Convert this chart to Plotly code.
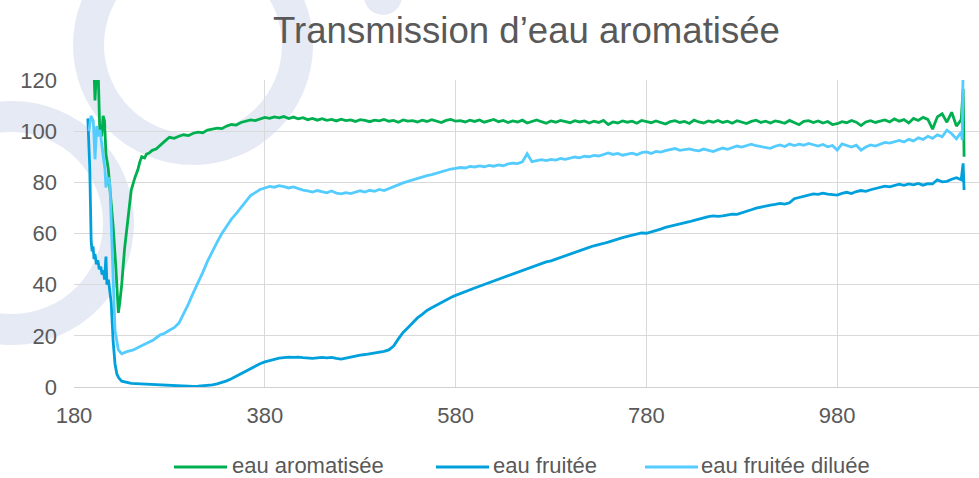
import plotly.graph_objects as go

# ---------------- data ----------------
names = ["eau aromatisée", "eau fruitée", "eau fruitée diluée"]
colors = ["#00B050", "#00A0DC", "#55CCFF"]

x_green_start = [195, 198, 200, 202, 204, 205.5, 207, 209, 210.5, 212, 213.5, 214.5, 216, 218, 221, 224,
                 226.5, 228, 230, 233, 237, 240, 244, 247, 249, 251, 254, 256, 259, 262, 266]
y_green_start = [130, 122, 135, 112, 127, 121, 100, 98, 106, 104, 91, 89, 85, 76, 63, 46,
                 29, 33, 40, 54, 68, 77, 82, 85, 88, 90, 89.5, 91, 91.5, 92.5, 93]

x_blue_start = [194.5, 195.5, 196.5, 198, 199, 200, 201, 202, 203.5, 205, 206.5, 208, 209.5, 211, 212,
                213.5, 214.5, 216, 217.5, 219, 221, 223, 225, 227, 230, 235, 240, 250, 260, 265]
y_blue_start = [105, 97, 86, 57, 53, 55, 50, 52, 48, 49.5, 46, 47, 44, 45.5, 42,
                51, 40, 42, 38, 33, 18, 9, 5, 3.5, 2.3, 1.8, 1.4, 1.2, 1.0, 0.9]

x_light_start = [195.7, 197.8, 200.2, 202, 203.8, 205.2, 207.3, 209, 210.7, 212.5, 213.5, 216, 217.7,
                 219.5, 221.2, 223, 226.5, 230, 235.3, 242.2, 249.2, 256.2, 263.2]
y_light_start = [100, 106, 104, 89, 102, 98, 100.5, 94, 90, 85, 78, 82, 79,
                 59, 39, 22, 14.5, 13, 13.8, 14.5, 15.8, 17, 18.4]

# common wavelength grid 270 ... 1110 (step 5)
x_main = list(range(270, 1111, 5))

y_green_main = [
    94.5, 96.0, 97.6, 97.2, 98.0, 98.6, 98.3, 99.2, 99.6, 99.4, 100.4, 100.8, 101.2, 101.0, 102.0, 102.6,
    102.4, 103.4, 103.8, 104.4, 104.1, 104.9, 105.4, 105.0, 105.6, 105.2, 105.7, 104.9, 105.5, 104.8, 105.3,
    104.5, 105.0, 104.3, 104.9, 104.2, 104.6, 104.0, 104.7, 104.1, 104.4, 103.8, 104.5, 104.2, 103.7, 104.3,
    104.0, 104.6, 103.9, 104.2, 103.5, 104.4, 103.9, 104.1, 103.6, 104.3, 103.8, 104.5, 104.0, 103.4, 104.2,
    104.6, 103.9, 104.1, 103.6, 104.3, 103.8, 104.4, 103.5, 104.0, 104.6, 103.7, 104.2, 103.4, 104.0, 103.6,
    104.3, 103.2, 103.9, 104.4, 103.7, 103.1, 104.0, 103.5, 104.2, 103.8, 103.3, 104.1, 103.6, 104.0, 103.2,
    103.9, 103.4, 104.2, 102.6, 103.6, 103.2, 104.0, 103.5, 103.9, 103.1, 104.2, 103.7, 103.3, 104.0, 103.5,
    102.8, 103.7, 104.1, 103.4, 103.8, 103.0, 104.3, 103.6, 103.2, 104.0, 103.5, 104.2, 103.4, 103.9, 103.1,
    104.1, 103.5, 103.0, 103.8, 104.3, 103.4, 103.9, 103.2, 104.0, 103.6, 103.1, 104.2, 103.5, 102.5, 103.8,
    104.1, 103.4, 104.0, 103.2, 103.8, 102.6, 102.9, 103.7, 103.3, 104.2, 103.5, 102.2, 103.6, 104.1, 103.4,
    103.9, 104.4, 103.6, 104.8, 103.9, 104.5, 103.2, 105.0, 104.2, 105.4, 104.6, 100.8, 105.6, 106.8, 103.5,
    107.4, 102.0, 104.5]

y_blue_main = [
    0.8, 0.7, 0.5, 0.4, 0.3, 0.2, 0.2, 0.2, 0.3, 0.4, 0.6, 0.8, 1.2, 1.7, 2.4, 3.2,
    4.2, 5.2, 6.3, 7.3, 8.3, 9.1, 9.8, 10.4, 10.9, 11.3, 11.5, 11.7, 11.6, 11.7, 11.5,
    11.3, 11.2, 11.4, 11.6, 11.4, 11.6, 11.2, 10.9, 11.3, 11.8, 12.3, 12.5, 12.7, 13.0, 13.2,
    13.6, 13.9, 14.5, 16.0, 18.8, 21.3, 23.2, 25.3, 27.0, 28.4, 29.9, 31.0, 32.0, 33.0, 34.3,
    35.0, 35.8, 36.6, 37.4, 38.1, 38.7, 39.4, 40.1, 40.8, 41.5, 42.0, 42.7, 43.4, 44.0, 44.8,
    45.6, 46.2, 46.9, 47.6, 48.4, 48.9, 49.3, 50.0, 50.6, 51.3, 52.0, 52.6, 53.2, 54.0, 54.6,
    55.2, 55.8, 56.1, 56.6, 57.3, 57.9, 58.4, 58.9, 59.4, 59.8, 60.2, 60.1, 60.6, 61.3, 61.7,
    62.4, 62.8, 63.2, 63.8, 64.0, 64.6, 65.1, 65.7, 66.2, 66.6, 66.9, 66.7, 66.9, 67.2, 67.6,
    67.5, 68.2, 68.6, 69.3, 69.9, 70.4, 70.9, 71.1, 71.4, 71.8, 71.5, 72.0, 73.6, 74.0, 74.4,
    74.8, 75.5, 75.3, 75.8, 75.4, 75.1, 75.0, 75.7, 76.1, 75.6, 76.4, 76.8, 76.5, 77.1, 77.5,
    77.9, 78.5, 78.2, 78.8, 79.3, 78.8, 79.4, 79.0, 79.6, 78.9, 79.5, 79.4, 81.0, 80.2, 80.4,
    81.2, 81.8, 81.0]

y_light_main = [
    20.3, 21.0, 22.2, 23.2, 25.0, 28.5, 32.5, 36.8, 40.5, 44.8, 49.2, 53.2, 56.6, 60.0, 62.8, 65.6,
    67.8, 70.0, 72.6, 74.8, 76.0, 77.2, 77.8, 78.4, 78.1, 78.7, 78.3, 77.8, 78.2, 77.5, 77.0,
    76.7, 76.2, 76.8, 76.4, 75.9, 76.6, 75.8, 75.5, 76.0, 75.6, 76.3, 76.7, 76.2, 76.9, 76.5,
    77.2, 76.8, 77.6, 78.2, 79.0, 79.8, 80.4, 81.0, 81.5, 82.2, 82.6, 83.0, 83.6, 83.9, 84.6,
    85.2, 85.5, 85.8, 85.6, 86.2, 86.0, 86.4, 86.1, 86.6, 86.3, 86.8, 86.5, 87.2, 87.5, 87.3,
    88.0, 91.2, 88.1, 88.6, 88.9, 88.5, 89.0, 88.7, 89.3, 89.0, 89.4, 89.9, 89.6, 90.2, 90.0,
    90.5, 90.3, 91.0, 91.5, 90.9, 91.3, 90.6, 91.0, 91.4, 90.8, 91.6, 91.9, 91.3, 92.1, 91.8,
    92.4, 92.9, 93.2, 92.5, 92.9, 93.1, 92.6, 92.3, 93.0, 92.5, 92.0, 92.8, 93.4, 92.9, 93.6,
    94.2, 93.8, 94.5, 94.9, 94.3, 94.0, 93.6, 93.3, 94.1, 94.6, 94.0, 95.0, 94.4, 94.9, 94.5,
    95.2, 94.7, 94.2, 94.8, 93.9, 94.4, 92.6, 95.0, 94.3, 93.8, 94.5, 92.6, 93.8, 94.6, 94.2,
    95.0, 95.6, 95.3, 96.0, 96.4, 95.8, 96.8, 96.2, 97.4, 96.8, 98.0, 97.2, 98.6, 97.8, 100.4,
    99.0, 97.0, 99.7]

x_green_end = [1112, 1113]
y_green_end = [116.5, 90]
x_blue_end = [1112, 1113]
y_blue_end = [87.4, 77]
x_light_end = [1111, 1112]
y_light_end = [96.5, 125]

x_ticks = [180, 380, 580, 780, 980]
y_ticks = [0, 20, 40, 60, 80, 100, 120]
title_text = "Transmission d’eau aromatisée"

series_x = [x_green_start + x_main + x_green_end,
            x_blue_start + x_main + x_blue_end,
            x_light_start + x_main + x_light_end]
series_y = [y_green_start + y_green_main + y_green_end,
            y_blue_start + y_blue_main + y_blue_end,
            y_light_start + y_light_main + y_light_end]

# ---------------- layout geometry ----------------
FIG_W, FIG_H = 979, 478
L, T, W, H = 74, 80, 905, 307
TEXT = "#595959"
FONT = "Liberation Sans, Arial, sans-serif"


def px_x(p):
    return (p - L) / W


def px_y(p):
    return (T + H - p) / H


fig = go.Figure()
for xs, ys, nm, col in zip(series_x, series_y, names, colors):
    fig.add_trace(go.Scatter(x=xs, y=ys, name=nm, mode="lines",
                             line=dict(color=col, width=2.8), showlegend=False))

shapes = []
ring_col = "#E5EAF5"
# decorative background rings (outer disc + white hole)
for (cx, cy, r_out, r_in) in [(193, 45, 120, 89), (12, 223, 122, 91)]:
    for r, c in [(r_out, ring_col), (r_in, "white")]:
        shapes.append(dict(type="circle", xref="paper", yref="paper", layer="below",
                           x0=px_x(cx - r), x1=px_x(cx + r), y0=px_y(cy + r), y1=px_y(cy - r),
                           fillcolor=c, line=dict(width=0)))
shapes.append(dict(type="circle", xref="paper", yref="paper", layer="below",
                   x0=px_x(383 - 19), x1=px_x(383 + 19), y0=px_y(-4 + 19), y1=px_y(-4 - 19),
                   fillcolor=ring_col, line=dict(width=0)))

# custom legend
annotations = []
legend_y = px_y(465)
for nm, col, (lx0, lx1, tx) in zip(names, colors, [(174, 227, 231), (436, 489, 492), (645, 698, 700)]):
    shapes.append(dict(type="line", xref="paper", yref="paper", x0=px_x(lx0), x1=px_x(lx1),
                       y0=px_y(467), y1=px_y(467), line=dict(color=col, width=2.8)))
    annotations.append(dict(text=nm, xref="paper", yref="paper", x=px_x(tx), y=legend_y,
                            xanchor="left", yanchor="middle", showarrow=False, borderpad=0,
                            font=dict(size=22, color=TEXT, family=FONT)))

fig.update_layout(
    width=FIG_W, height=FIG_H,
    margin=dict(l=L, r=FIG_W - L - W, t=T, b=FIG_H - T - H),
    paper_bgcolor="white", plot_bgcolor="rgba(0,0,0,0)",
    font=dict(family=FONT, color=TEXT),
    title=dict(text=title_text, x=0.5, xref="paper", xanchor="center",
               y=1 - 30 / FIG_H, yref="container", yanchor="middle",
               font=dict(size=36.6, color=TEXT, family=FONT)),
    shapes=shapes, annotations=annotations,
    xaxis=dict(range=[180, 180 + W / 0.954], tickvals=x_ticks, ticktext=[str(v) for v in x_ticks],
               showgrid=True, gridcolor="#D9D9D9", gridwidth=1.4, zeroline=False,
               showline=True, linecolor="#D0D0D0", linewidth=1.4, ticks="",
               ticklabelstandoff=8, tickfont=dict(size=22, color=TEXT)),
    yaxis=dict(range=[0, 120], tickvals=y_ticks, showgrid=True, gridcolor="#D9D9D9", gridwidth=1.4,
               zeroline=False, showline=False, ticks="", ticklabelstandoff=16,
               tickfont=dict(size=22, color=TEXT)),
)

fig.write_html("out.html", config={"displayModeBar": False},
               post_script="document.body.style.margin='0';document.body.style.overflow='hidden';")
